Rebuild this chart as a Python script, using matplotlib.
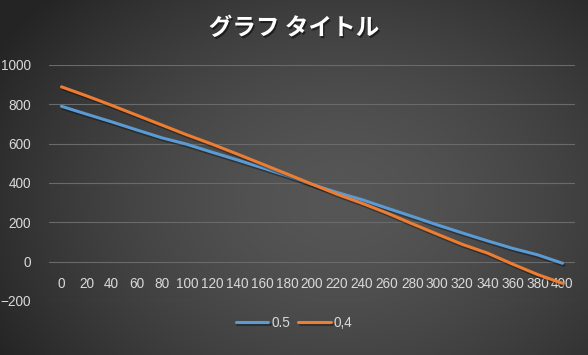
import numpy as np
import matplotlib
matplotlib.use("Agg")
import matplotlib.pyplot as plt
import matplotlib.patheffects as pe

plt.rcParams['font.family'] = ['Liberation Sans', 'Noto Sans CJK JP', 'DejaVu Sans']

title = "グラフ タイトル"
x_labels = list(range(0, 401, 20))
series_names = ["0.5", "0,4"]
blue_vals = [790, 750, 711, 670, 630, 597, 557, 518, 478, 437, 393,
             352, 315, 272, 230, 187, 146, 106, 68, 35, -8]
orange_vals = [889, 843, 795, 745, 695, 645, 598, 548, 497, 446, 394,
               343, 297, 247, 193, 140, 88, 44, -12, -65, -110]
colors = ["#5B9BD5", "#ED7D31"]

W, H = 588, 355
fig = plt.figure(figsize=(W / 100, H / 100), dpi=100)

# radial dark background
bg = fig.add_axes([0, 0, 1, 1], zorder=-10)
yy, xx = np.mgrid[0:H, 0:W]
r = np.sqrt(((xx - 340) / 400.0) ** 2 + ((yy - 200) / 300.0) ** 2)
r = np.clip(r, 0, 1)
inner, outer = 0x56 / 255, 0x24 / 255
shade = inner + (outer - inner) * r ** 1.6
bg.imshow(np.dstack([shade] * 3), aspect='auto', extent=[0, 1, 0, 1])
bg.axis('off')

ax = fig.add_axes([49 / W, 1 - 301 / H, 526 / W, 236 / H])
ax.patch.set_alpha(0)
x = np.arange(len(x_labels))
shadow = [pe.SimpleLineShadow(offset=(1, -1.5), shadow_color='black', alpha=0.35), pe.Normal()]
ax.plot(x, blue_vals, color=colors[0], lw=2.2, label=series_names[0],
        solid_capstyle='round', path_effects=shadow, zorder=3)
ax.plot(x, orange_vals, color=colors[1], lw=2.2, label=series_names[1],
        solid_capstyle='round', path_effects=shadow, zorder=3)

ax.set_xlim(-0.5, len(x_labels) - 0.5)
ax.set_ylim(-200, 1000)
ax.set_yticks(range(-200, 1001, 200))
ax.grid(axis='y', color='#6a6a6a', lw=0.8)
ax.set_axisbelow(True)
for s in ax.spines.values():
    s.set_visible(False)
ax.spines['bottom'].set_position(('data', 0))
ax.set_xticks(x)
ax.set_xticklabels([str(v) for v in x_labels])
ax.tick_params(axis='x', length=0, pad=11, colors='#d9d9d9', labelsize=9.8)
ax.tick_params(axis='y', length=0, pad=13, colors='#d9d9d9', labelsize=9.8)

fig.text(0.5, 1 - 28 / H, title, ha='center', va='center', color='white',
         fontsize=17, fontweight='bold', family=['Noto Sans CJK JP'],
         path_effects=[pe.withSimplePatchShadow(offset=(1, -1.5), shadow_rgbFace='black', alpha=0.5)])

leg = fig.legend(loc='center', bbox_to_anchor=(0.5, 1 - 323 / H), ncol=2, frameon=False,
                 fontsize=9.8, handlelength=2.4, handletextpad=0.2, columnspacing=0.6)
for t in leg.get_texts():
    t.set_color('#d9d9d9')

fig.savefig("out.png", dpi=100)
